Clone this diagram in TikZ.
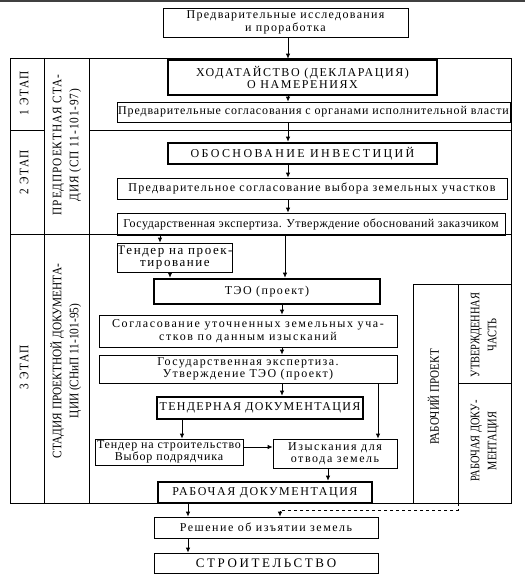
\documentclass[tikz,border=0pt]{standalone}
\usepackage{fontspec}
\setmainfont{Liberation Serif}
\usetikzlibrary{arrows.meta,calc}
\newcommand\lsf[2]{\fontsize{#1}{12.5}\selectfont\addfontfeatures{LetterSpace=#2}}
\newcommand\cond[2]{\scalebox{#1}[1]{\begin{tabular}{@{}c@{}}#2\end{tabular}}}
\tikzset{
  box/.style={draw, line width=0.8pt, inner sep=0pt, align=center, font=\lsf{12}{12}},
  thick box/.style={box, line width=2.6pt},
  rot/.style={rotate=90, align=center, inner sep=0pt, font=\fontsize{13}{17}\selectfont},
  frame/.style={line width=0.8pt},
  arr/.style={line width=0.8pt, -{Latex[length=5pt,width=4.5pt]}}
}
\begin{document}
\begin{tikzpicture}[x=1pt,y=-1pt]
\useasboundingbox (0,0) rectangle (525,578);
\fill[black!75] (0,0) rectangle (525,1.6);
% frame
\draw[frame] (10,58) rectangle (511,503);
\draw[frame] (44,58) -- (44,503);
\draw[frame] (89,58) -- (89,503);
\draw[frame] (10,130) -- (44,130);
\draw[frame] (89,130) -- (511,130);
\draw[frame] (10,234) -- (511,234);
\draw[frame] (413,284) rectangle (511,503);
\draw[frame] (458,284) -- (458,503);
\draw[frame] (458,383) -- (511,383);
% side labels
\node[rot] (st1) at (25,93) {\addfontfeatures{LetterSpace=12}\cond{0.87}{1 ЭТАП}};
\node[rot] (st2) at (25,172) {\addfontfeatures{LetterSpace=12}\cond{0.87}{2 ЭТАП}};
\node[rot] (st3) at (25,367) {\addfontfeatures{LetterSpace=12}\cond{0.87}{3 ЭТАП}};
\node[rot] (pre) at (66.5,145) {\addfontfeatures{LetterSpace=8}\cond{0.87}{ПРЕДПРОЕКТНАЯ СТА-\\ДИЯ (СП 11-101-97)}};
\node[rot] (prd) at (66.5,361) {\cond{0.87}{СТАДИЯ ПРОЕКТНОЙ ДОКУМЕНТА-\\ЦИИ (СНиП 11-101-95)}};
\node[rot] (rp) at (435.5,397) {\cond{0.85}{РАБОЧИЙ ПРОЕКТ}};
\node[rot] (ut) at (484.5,335) {\cond{0.8}{УТВЕРЖДЕННАЯ\\ЧАСТЬ}};
\node[rot] (rd) at (484.5,441) {\cond{0.8}{РАБОЧАЯ ДОКУ-\\МЕНТАЦИЯ}};
% boxes
\node[box, font=\lsf{12}{11}, minimum width=245pt, minimum height=29pt] (top) at (285.5,22.5) {Предварительные исследования\\и проработка};
\node[thick box, font=\lsf{12}{13}, minimum width=269pt, minimum height=35pt] (hod) at (302.5,77.5) {ХОДАТАЙСТВО (ДЕКЛАРАЦИЯ)\\О НАМЕРЕНИЯХ};
\node[box, font=\lsf{12}{7}, minimum width=393pt, minimum height=20pt] (sogl1) at (313.5,112) {Предварительные согласования с органами исполнительной власти};
\node[thick box, font=\lsf{12}{20}, minimum width=269pt, minimum height=21pt] (obosn) at (302.5,153.5) {ОБОСНОВАНИЕ ИНВЕСТИЦИЙ};
\node[box, font=\lsf{12}{10.5}, minimum width=390pt, minimum height=21pt] (vybor) at (312,188.5) {Предварительное согласование выбора земельных участков};
\node[box, font=\lsf{12}{4}, minimum width=388pt, minimum height=22pt] (gos1) at (311,224) {Государственная экспертиза. Утверждение обоснований заказчиком};
\node[box, font=\lsf{13}{12}, minimum width=114pt, minimum height=29pt] (tend1) at (175,257.5) {Тендер на проек-\\тирование};
\node[thick box, minimum width=226pt, minimum height=25pt] (teo) at (267,291.5) {ТЭО (проект)};
\node[box, font=\lsf{12}{13.5}, minimum width=298pt, minimum height=32pt] (sogl2) at (248,331) {Согласование уточненных земельных уча-\\стков по данным изысканий};
\node[box, font=\lsf{12}{11.5}, minimum width=298pt, minimum height=28pt] (gos2) at (248,369) {Государственная экспертиза.\\Утверждение ТЭО (проект)};
\node[thick box, font=\lsf{12}{11}, minimum width=206pt, minimum height=22pt] (tdoc) at (260,408) {ТЕНДЕРНАЯ ДОКУМЕНТАЦИЯ};
\node[box, font=\lsf{12}{7}, minimum width=148pt, minimum height=26pt] (tend2) at (169,452) {Тендер на строительство\\Выбор подрядчика};
\node[box, font=\lsf{12}{13}, minimum width=124pt, minimum height=29pt] (izy) at (335,453.5) {Изыскания для\\отвода земель};
\node[thick box, font=\lsf{12}{13}, minimum width=214pt, minimum height=21pt] (rdoc) at (265,492.5) {РАБОЧАЯ ДОКУМЕНТАЦИЯ};
\node[box, font=\lsf{12}{12.5}, minimum width=224pt, minimum height=21pt] (resh) at (266,527.5) {Решение об изъятии земель};
\node[box, font=\lsf{13}{20}, minimum width=224pt, minimum height=20pt] (stroi) at (266,563) {СТРОИТЕЛЬСТВО};
% columns for connectors
\coordinate (xa) at (288,0);
\coordinate (xb) at (282,0);
\coordinate (xc) at (160,0);
\coordinate (xd) at (285,0);
\coordinate (xe) at (170,0);
\coordinate (xf) at (182,0);
\coordinate (xg) at (378,0);
\coordinate (xh) at (328,0);
\coordinate (xi) at (188,0);
\coordinate (xj) at (280,0);
\coordinate (yk) at (0,447);
\coordinate (pb) at (458,503);
% connectors
\draw[arr] (top.south -| xa) -- (hod.north -| xa);
\draw[arr] (hod.south -| xa) -- (sogl1.north -| xa);
\draw[arr] (sogl1.south -| xa) -- (obosn.north -| xa);
\draw[arr] (obosn.south -| xa) -- (vybor.north -| xa);
\draw[arr] (vybor.south -| xa) -- (gos1.north -| xa);
\draw[arr] (gos1.south -| xc) -- (tend1.north -| xc);
\draw[arr] (gos1.south -| xd) -- (teo.north -| xd);
\draw[arr] (tend1.south -| xe) -- (teo.north -| xe);
\draw[arr] (teo.south -| xb) -- (sogl2.north -| xb);
\draw[arr] (sogl2.south -| xb) -- (gos2.north -| xb);
\draw[arr] (gos2.south -| xb) -- (tdoc.north -| xb);
\draw[arr] (tdoc.south -| xf) -- (tend2.north -| xf);
\draw[arr] (gos2.south -| xg) -- (izy.north -| xg);
\draw[arr] (tend2.east |- yk) -- (izy.west |- yk);
\draw[arr] (izy.south -| xh) -- (rdoc.north -| xh);
\draw[arr] (rdoc.south -| xi) -- (resh.north -| xi);
\draw[arr] (resh.south -| xi) -- (stroi.north -| xi);
\draw[arr, dashed] (pb) -- ++(0,7) -| (resh.north -| xj);
\end{tikzpicture}
\end{document}
